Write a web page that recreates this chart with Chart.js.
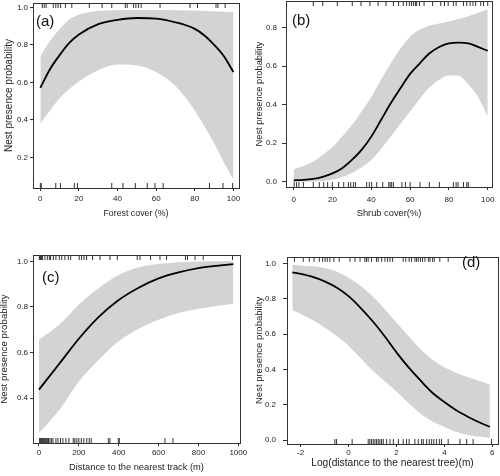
<!DOCTYPE html>
<html>
<head>
<meta charset="utf-8">
<script src="https://cdn.jsdelivr.net/npm/chart.js@4.4.1/dist/chart.umd.min.js"></script>
<style>
html, body { margin: 0; padding: 0; background: #fff; width: 500px; height: 476px; overflow: hidden; position: relative; }
canvas { position: absolute; }
.tag { position: absolute; font-family: "Liberation Sans", Arial, sans-serif; font-size: 15px; line-height: 15px; color: #111; }
</style>
</head>
<body>
<canvas id="painelA" width="256" height="236" style="left:-7px;top:-7px"></canvas>
<canvas id="painelB" width="258" height="238" style="left:244px;top:-9px"></canvas>
<canvas id="painelC" width="261" height="238" style="left:-11px;top:245px"></canvas>
<canvas id="painelD" width="264" height="234" style="left:244px;top:245px"></canvas>
<div class="tag" style="left:36px;top:13px">(a)</div>
<div class="tag" style="left:292px;top:12px">(b)</div>
<div class="tag" style="left:42px;top:269px">(c)</div>
<div class="tag" style="left:462px;top:254px">(d)</div>
<script>
// (a) cobertura florestal
var aX     = [0, 5, 10, 15, 20, 30, 40, 50, 60, 70, 80, 85, 90, 95, 100];
var aFit   = [0.571, 0.67, 0.745, 0.81, 0.855, 0.91, 0.933, 0.943, 0.94, 0.92, 0.885, 0.85, 0.8, 0.74, 0.655];
var aUpper = [0.74, 0.82, 0.885, 0.935, 0.96, 0.98, 0.985, 0.986, 0.986, 0.985, 0.983, 0.981, 0.979, 0.977, 0.975];
var aLower = [0.38, 0.45, 0.515, 0.565, 0.605, 0.665, 0.695, 0.69, 0.655, 0.58, 0.45, 0.365, 0.275, 0.175, 0.08];
var aRugTop = [1, 2, 3, 6.7, 8, 9.2, 10.5, 13, 16.3, 25.4, 32, 37, 44, 45, 48.3, 49.5, 50.8, 52.2, 62, 77.5, 81.4, 91, 92, 95.7];
var aRugBottom = [0, 0.5, 8, 10.4, 17.6, 19.2, 37, 42.8, 49.2, 55.4, 59.4, 63.6, 87.6, 94.6, 99.6];
var aXTicks = [0, 20, 40, 60, 80, 100];
var aYTicks = [0.2, 0.4, 0.6, 0.8, 1.0];

// (b) cobertura arbustiva
var bX     = [0, 5, 10, 15, 20, 25, 30, 35, 40, 45, 50, 55, 60, 65, 70, 75, 80, 85, 90, 95, 100];
var bFit   = [0.007, 0.009, 0.014, 0.025, 0.043, 0.07, 0.113, 0.165, 0.234, 0.32, 0.407, 0.485, 0.56, 0.615, 0.667, 0.7, 0.719, 0.722, 0.719, 0.7, 0.68];
var bUpper = [0.064, 0.082, 0.104, 0.14, 0.18, 0.235, 0.294, 0.365, 0.44, 0.53, 0.615, 0.69, 0.753, 0.79, 0.81, 0.822, 0.832, 0.845, 0.86, 0.878, 0.895];
var bLower = [0, 0, 0.001, 0.004, 0.01, 0.024, 0.045, 0.075, 0.113, 0.17, 0.234, 0.3, 0.364, 0.43, 0.49, 0.53, 0.552, 0.55, 0.505, 0.44, 0.338];
var bRugTop = [10.1, 15, 22.5, 30.2, 34.7, 39.3, 43.5, 47.6, 51.4, 54.1, 56.5, 58.2, 59.6, 60.7, 61.7, 62.7, 63.4, 64.8, 67.2, 71.6, 75.8, 77.7, 79.6, 82.3, 83.7, 87.5, 89.2, 90.9, 92.4, 93.8, 96.4, 97.8, 100];
var bRugBottom = [0.3, 1.5, 2.7, 5, 10.1, 13.2, 15.5, 17.5, 19.9, 23.2, 25.8, 28.2, 29.4, 30.8, 31.8, 37.6, 39, 40.2, 42.8, 45.9, 49, 49.7, 50.5, 51.4, 55.8, 57.6, 60, 65.1, 69.9, 75.1, 82.3, 83.7, 84.7, 87.5, 89.2, 90];
var bXTicks = [0, 20, 40, 60, 80, 100];
var bYTicks = [0, 0.2, 0.4, 0.6, 0.8];

// (c) distancia a trilha
var cX     = [0, 100, 200, 300, 400, 500, 600, 700, 800, 900, 975];
var cFit   = [0.437, 0.548, 0.66, 0.756, 0.83, 0.884, 0.925, 0.951, 0.97, 0.981, 0.988];
var cUpper = [0.656, 0.72, 0.81, 0.883, 0.94, 0.974, 0.988, 0.996, 0.999, 1.0, 1.0];
var cLower = [0.246, 0.345, 0.473, 0.568, 0.649, 0.704, 0.744, 0.773, 0.792, 0.805, 0.814];
var cRugTop = [2, 5, 8, 11, 14, 18, 30, 42, 52, 58, 72, 85, 102, 114, 130, 147, 159, 202, 214, 226, 239, 269, 306, 356, 393, 493, 507, 560, 607, 640, 735, 745, 783, 824, 971];
var cRugBottom = [3, 8, 13, 17, 22, 27, 32, 37, 42, 48, 55, 62, 70, 85, 95, 108, 120, 135, 150, 172, 180, 190, 200, 212, 225, 240, 252, 262, 348, 356, 398, 403, 632, 672];
var cXTicks = [0, 200, 400, 600, 800, 1000];
var cYTicks = [0.4, 0.6, 0.8, 1.0];

// (d) log da distancia a arvore mais proxima
var dX     = [-2.35, -2, -1.5, -1, -0.5, 0, 0.5, 1, 1.5, 2, 2.5, 3, 3.5, 4, 4.5, 5, 5.5, 5.9];
var dFit   = [0.951, 0.942, 0.925, 0.9, 0.865, 0.816, 0.75, 0.675, 0.59, 0.497, 0.413, 0.338, 0.268, 0.216, 0.169, 0.131, 0.098, 0.075];
var dUpper = [0.994, 0.99, 0.985, 0.976, 0.955, 0.92, 0.875, 0.816, 0.745, 0.666, 0.59, 0.516, 0.455, 0.413, 0.38, 0.356, 0.333, 0.315];
var dLower = [0.737, 0.715, 0.68, 0.638, 0.59, 0.535, 0.465, 0.394, 0.335, 0.275, 0.21, 0.15, 0.105, 0.075, 0.045, 0.028, 0.018, 0.013];
var dRugTop = [-2.26, -1.89, -1.64, -1.44, -1.22, -1.08, -0.98, -0.89, -0.78, -0.61, -0.39, 0.06, 0.27, 0.48, 0.68, 0.75, 0.82, 0.96, 1.17, 1.24, 1.38, 1.52, 1.63, 1.73, 1.84, 2.28, 2.39, 2.53, 2.63, 2.77, 2.84, 2.91, 3.0, 3.09, 3.19, 3.33, 3.4, 3.51, 3.58, 3.81, 4.16];
var dRugBottom = [-0.57, -0.5, 0.15, 0.82, 0.89, 0.96, 1.03, 1.1, 1.17, 1.24, 1.31, 1.38, 1.45, 1.59, 1.73, 1.87, 2.08, 2.28, 2.42, 2.53, 2.77, 2.91, 3.05, 3.12, 3.26, 3.37, 3.47, 3.56, 3.67, 3.79, 3.88, 4.16, 4.65, 4.93, 5.2, 5.97];
var dXTicks = [-2, 0, 2, 4, 6];
var dYTicks = [0, 0.2, 0.4, 0.6, 0.8, 1.0];

var yTitulo = 'Nest presence probability';
var xTitulos = ['Forest cover (%)', 'Shrub cover(%)', 'Distance to the nearest track (m)', 'Log(distance to the nearest tree)(m)'];

var FAMILIA = '"Liberation Sans", Arial, sans-serif';
var PAD = 10;
var RUG = 2.5;

// moldura do grafico (box do R)
var moldura = {
	id: 'moldura',
	afterDraw: function(chart) {
		var a = chart.chartArea, ctx = chart.ctx;
		ctx.save();
		ctx.strokeStyle = '#333';
		ctx.lineWidth = 1;
		ctx.strokeRect(Math.round(a.left) + 0.5, Math.round(a.top) + 0.5,
			Math.round(a.right - a.left), Math.round(a.bottom - a.top));
		ctx.restore();
	}
};

function pares(xs, ys) {
	return xs.map(function(x, i) { return {x: x, y: ys[i]}; });
}

function criarPainel(id, p) {
	var canvas = document.getElementById(id);
	var alturaPlot = canvas.height - 2 * PAD - p.xh;
	var porPixel = (p.yMax - p.yMin) / alturaPlot;
	var yTopo = p.yMax - RUG * porPixel;
	var yBase = p.yMin + RUG * porPixel;
	var rug = {
		showLine: false, pointStyle: 'line', pointRotation: 90, pointRadius: RUG,
		pointBorderColor: '#333', pointBorderWidth: 1, borderColor: '#333', order: 1
	};

	return new Chart(canvas.getContext('2d'), {
		type: 'line',
		data: {
			datasets: [
				{ label: 'ajuste', data: pares(p.x, p.fit), borderColor: '#000', borderWidth: 1.8,
				  pointRadius: 0, fill: false, cubicInterpolationMode: 'monotone', order: 0 },
				Object.assign({ label: 'presente', data: p.rugTop.map(function(v) { return {x: v, y: yTopo}; }) }, rug),
				Object.assign({ label: 'ausente', data: p.rugBottom.map(function(v) { return {x: v, y: yBase}; }) }, rug),
				{ label: 'ic superior', data: pares(p.x, p.upper), borderColor: 'rgba(0,0,0,0)', borderWidth: 0,
				  backgroundColor: '#d3d3d3', fill: '+1', pointRadius: 0, cubicInterpolationMode: 'monotone', order: 2 },
				{ label: 'ic inferior', data: pares(p.x, p.lower), borderColor: 'rgba(0,0,0,0)', borderWidth: 0,
				  fill: false, pointRadius: 0, cubicInterpolationMode: 'monotone', order: 3 }
			]
		},
		options: {
			responsive: false,
			animation: false,
			events: [],
			layout: { padding: PAD },
			plugins: { legend: { display: false }, tooltip: { enabled: false } },
			scales: {
				x: {
					type: 'linear', min: p.xMin, max: p.xMax,
					afterBuildTicks: function(s) { s.ticks = p.xTicks.map(function(v) { return {value: v}; }); },
					afterFit: function(s) { s.height = p.xh; },
					ticks: { autoSkip: false, maxRotation: 0, padding: p.xPad, color: '#222',
					         font: { family: FAMILIA, size: p.fonte }, callback: function(v) { return String(v); } },
					grid: { drawOnChartArea: false, tickLength: 3, color: '#333' },
					border: { display: false },
					title: { display: true, text: p.xTitulo, color: '#222', padding: 0,
					         font: { family: FAMILIA, size: p.tituloX, lineHeight: 1.2 } }
				},
				y: {
					type: 'linear', min: p.yMin, max: p.yMax,
					afterBuildTicks: function(s) { s.ticks = p.yTicks.map(function(v) { return {value: v}; }); },
					afterFit: function(s) { s.width = p.yw; },
					ticks: { autoSkip: false, padding: p.yPad, color: '#222',
					         font: { family: FAMILIA, size: p.fonte }, callback: function(v) { return v.toFixed(1); } },
					grid: { drawOnChartArea: false, tickLength: p.yTick, color: '#333' },
					border: { display: false },
					title: { display: true, text: yTitulo, color: '#222', padding: 0,
					         font: { family: FAMILIA, size: p.tituloY, lineHeight: 1.2 } }
				}
			}
		},
		plugins: [moldura]
	});
}

criarPainel('painelA', {
	x: aX, fit: aFit, upper: aUpper, lower: aLower, rugTop: aRugTop, rugBottom: aRugBottom,
	xTicks: aXTicks, yTicks: aYTicks, xTitulo: xTitulos[0],
	xMin: -3.8, xMax: 102.9, yMin: 0.0364, yMax: 1.023,
	yw: 30, xh: 31, xPad: 3, yPad: 2, yTick: 3, fonte: 8, tituloX: 8.8, tituloY: 10
});
criarPainel('painelB', {
	x: bX, fit: bFit, upper: bUpper, lower: bLower, rugTop: bRugTop, rugBottom: bRugBottom,
	xTicks: bXTicks, yTicks: bYTicks, xTitulo: xTitulos[1],
	xMin: -3.95, xMax: 102.2, yMin: -0.0277, yMax: 0.9386,
	yw: 32, xh: 32, xPad: 5, yPad: 5, yTick: 4, fonte: 8, tituloX: 9.3, tituloY: 9.3
});
criarPainel('painelC', {
	x: cX, fit: cFit, upper: cUpper, lower: cLower, rugTop: cRugTop, rugBottom: cRugBottom,
	xTicks: cXTicks, yTicks: cYTicks, xTitulo: xTitulos[2],
	xMin: -30, xMax: 1008.5, yMin: 0.2025, yMax: 1.0278,
	yw: 34, xh: 30, xPad: 2, yPad: 2, yTick: 3, fonte: 8, tituloX: 9.3, tituloY: 9.7
});
criarPainel('painelD', {
	x: dX, fit: dFit, upper: dUpper, lower: dLower, rugTop: dRugTop, rugBottom: dRugBottom,
	xTicks: dXTicks, yTicks: dYTicks, xTitulo: xTitulos[3],
	xMin: -2.57, xMax: 6.24, yMin: -0.0225, yMax: 1.039,
	yw: 33, xh: 25, xPad: 1, yPad: 7, yTick: 4, fonte: 8, tituloX: 10.2, tituloY: 9.5
});
</script>
</body>
</html>
